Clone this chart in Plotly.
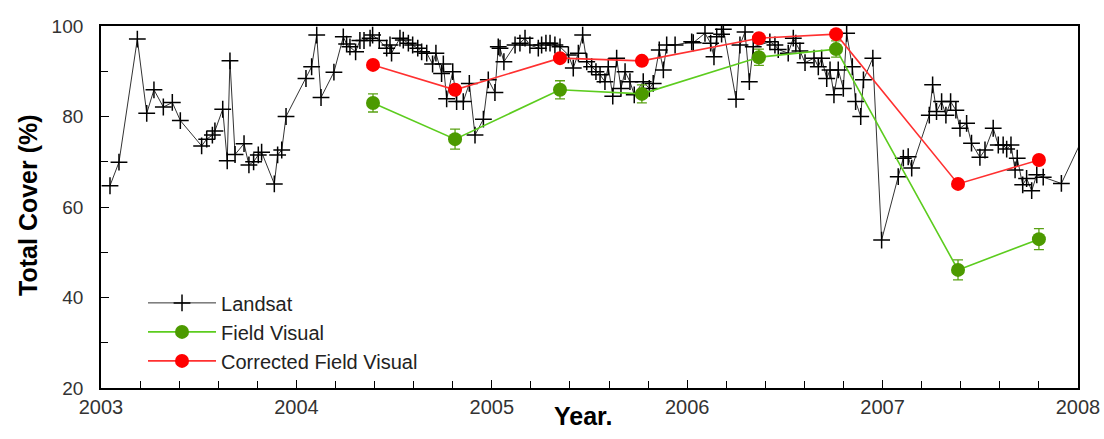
import plotly.graph_objects as go

# Landsat time series (decimal year, total cover %)
landsat_year = [
    2003.046, 2003.092, 2003.186, 2003.234, 2003.271, 2003.319, 2003.365, 2003.406,
    2003.515, 2003.541, 2003.570, 2003.583, 2003.623, 2003.646, 2003.660, 2003.686,
    2003.732, 2003.757, 2003.781, 2003.805, 2003.822, 2003.887, 2003.904, 2003.925,
    2003.947, 2004.049, 2004.078, 2004.104, 2004.126, 2004.192, 2004.240, 2004.257,
    2004.274, 2004.303, 2004.325, 2004.346, 2004.377, 2004.390, 2004.424, 2004.462,
    2004.479, 2004.487, 2004.530, 2004.547, 2004.573, 2004.595, 2004.621, 2004.641,
    2004.667, 2004.697, 2004.714, 2004.743, 2004.752, 2004.769, 2004.800, 2004.820,
    2004.854, 2004.885, 2004.914, 2004.957, 2004.982, 2005.016, 2005.033, 2005.042,
    2005.062, 2005.119, 2005.144, 2005.170, 2005.195, 2005.238, 2005.255, 2005.277,
    2005.298, 2005.323, 2005.349, 2005.392, 2005.417, 2005.443, 2005.465, 2005.486,
    2005.511, 2005.533, 2005.554, 2005.579, 2005.596, 2005.619, 2005.639, 2005.661,
    2005.682, 2005.707, 2005.729, 2005.775, 2005.806, 2005.826, 2005.857, 2005.878,
    2005.895, 2005.938, 2006.023, 2006.031, 2006.091, 2006.120, 2006.137, 2006.151,
    2006.176, 2006.185, 2006.250, 2006.270, 2006.296, 2006.318, 2006.338, 2006.423,
    2006.449, 2006.466, 2006.517, 2006.543, 2006.556, 2006.577, 2006.603, 2006.649,
    2006.671, 2006.688, 2006.714, 2006.731, 2006.751, 2006.773, 2006.799, 2006.816,
    2006.845, 2006.862, 2006.888, 2006.902, 2006.950, 2006.995, 2007.080, 2007.106,
    2007.131, 2007.149, 2007.239, 2007.256, 2007.276, 2007.302, 2007.324, 2007.348,
    2007.375, 2007.396, 2007.430, 2007.455, 2007.498, 2007.524, 2007.566, 2007.592,
    2007.617, 2007.635, 2007.657, 2007.678, 2007.689, 2007.717, 2007.737, 2007.763,
    2007.789, 2007.822, 2007.915, 2008.060,
]
landsat_cover = [
    64.7, 69.9, 97.1, 80.7, 85.9, 82.1, 83.1, 79.1,
    73.5, 75.0, 75.9, 76.8, 81.6, 70.2, 92.3, 71.6,
    74.0, 69.3, 70.0, 71.5, 72.1, 65.1, 71.5, 72.6,
    80.0, 88.4, 91.0, 98.0, 84.2, 89.8, 97.6, 96.0,
    95.4, 94.3, 96.8, 96.8, 97.3, 98.0, 96.8, 95.1,
    95.8, 94.0, 97.3, 96.9, 96.2, 95.8, 95.1, 94.3,
    94.0, 91.6, 94.0, 89.5, 91.6, 83.9, 89.9, 83.3,
    83.3, 87.3, 75.9, 79.4, 88.1, 85.3, 95.4, 95.1,
    92.1, 95.8, 96.2, 97.3, 95.8, 95.1, 95.8, 96.2,
    96.2, 95.8, 95.4, 93.6, 90.7, 94.0, 98.0, 92.1,
    91.0, 89.9, 89.2, 87.7, 91.0, 84.5, 92.9, 86.2,
    89.9, 87.7, 84.8, 87.7, 86.2, 87.3, 94.7, 90.3,
    95.8, 95.8, 96.5, 96.3, 98.4, 96.2, 93.2, 97.6,
    98.2, 99.3, 83.8, 95.8, 98.7, 87.7, 95.4, 96.5,
    95.8, 94.8, 94.0, 97.3, 96.2, 94.5, 91.9, 92.9,
    91.0, 92.9, 88.4, 90.3, 84.8, 90.3, 86.2, 98.4,
    91.0, 83.3, 80.0, 88.1, 92.9, 52.7, 66.7, 70.8,
    71.1, 68.6, 80.3, 87.0, 81.1, 83.3, 80.3, 83.3,
    81.4, 77.4, 78.5, 74.1, 71.0, 72.6, 77.4, 73.7,
    73.7, 72.8, 73.7, 68.2, 70.8, 64.9, 66.3, 63.6,
    67.1, 66.6, 65.2, 78.5,
]

# Field survey dates
field_year = [2004.392, 2004.812, 2005.349, 2005.768, 2006.367, 2006.762, 2007.386, 2007.800]
field_visual = [83.0, 75.0, 85.9, 85.0, 93.1, 94.9, 46.1, 52.9]
field_visual_err = [2.0, 2.2, 2.0, 2.0, 1.8, 1.8, 2.2, 2.3]
corrected_visual = [91.4, 85.9, 92.9, 92.3, 97.3, 98.2, 65.1, 70.4]

x_ticks = [2003, 2004, 2005, 2006, 2007, 2008]
y_ticks = [20, 40, 60, 80, 100]

FONT = "Liberation Sans, Arial, sans-serif"

fig = go.Figure()

fig.add_trace(go.Scatter(
    x=landsat_year, y=landsat_cover, mode="lines+markers", name="Landsat",
    line=dict(color="#333333", width=1.0),
    marker=dict(symbol="cross-thin", size=12, line=dict(color="black", width=1.5), color="black"),
))

fig.add_trace(go.Scatter(
    x=field_year, y=field_visual, mode="lines+markers", name="Field Visual",
    line=dict(color="#5ccc1e", width=1.6),
    marker=dict(symbol="circle", size=14, color="#4c9a00"),
    error_y=dict(type="data", array=field_visual_err, visible=True,
                 color="#5aa214", thickness=1.3, width=5),
))

fig.add_trace(go.Scatter(
    x=field_year, y=corrected_visual, mode="lines+markers", name="Corrected Field Visual",
    line=dict(color="#ff3030", width=1.6),
    marker=dict(symbol="circle", size=14, color="#ff0000"),
))

fig.update_layout(
    width=1104, height=439,
    margin=dict(l=101, r=26, t=26, b=51, autoexpand=False),
    paper_bgcolor="white", plot_bgcolor="white",
    font=dict(family=FONT, color="#222222"),
    showlegend=True,
    legend=dict(
        x=0.043, y=0.289, xanchor="left", yanchor="top",
        bgcolor="rgba(0,0,0,0)", font=dict(size=20, family=FONT, color="#222222"),
        itemwidth=68, tracegroupgap=0,
    ),
    annotations=[
        dict(text="<b>Total Cover (%)</b>", xref="paper", yref="paper",
             x=-0.075, y=0.505, xanchor="center", yanchor="middle", textangle=-90,
             showarrow=False, font=dict(size=25, family=FONT, color="black")),
        dict(text="<b>Year.</b>", xref="paper", yref="paper",
             x=0.4935, y=-0.077, xanchor="center", yanchor="middle",
             showarrow=False, font=dict(size=25, family=FONT, color="black")),
    ],
)

fig.update_xaxes(
    range=[2003, 2008], tickvals=x_ticks, ticktext=[str(v) for v in x_ticks],
    ticks="inside", ticklen=8, tickwidth=1.2, tickcolor="black",
    minor=dict(dtick=0.2, tick0=2003, ticks="inside", ticklen=7, tickwidth=1.2, tickcolor="black"),
    showline=True, linecolor="black", linewidth=1.8, mirror=True,
    showgrid=False, zeroline=False, automargin=False,
    tickfont=dict(size=20, family=FONT, color="#333333"),
)
fig.update_yaxes(
    range=[20, 100], tickvals=y_ticks,
    ticks="inside", ticklen=8, tickwidth=1.2, tickcolor="black",
    minor=dict(dtick=10, tick0=20, ticks="inside", ticklen=7, tickwidth=1.2, tickcolor="black"),
    showline=True, linecolor="black", linewidth=1.8, mirror=True,
    showgrid=False, zeroline=False, automargin=False,
    tickfont=dict(size=19, family=FONT, color="#333333"),
    ticklabelstandoff=12,
)

fig.write_html("out.html")
